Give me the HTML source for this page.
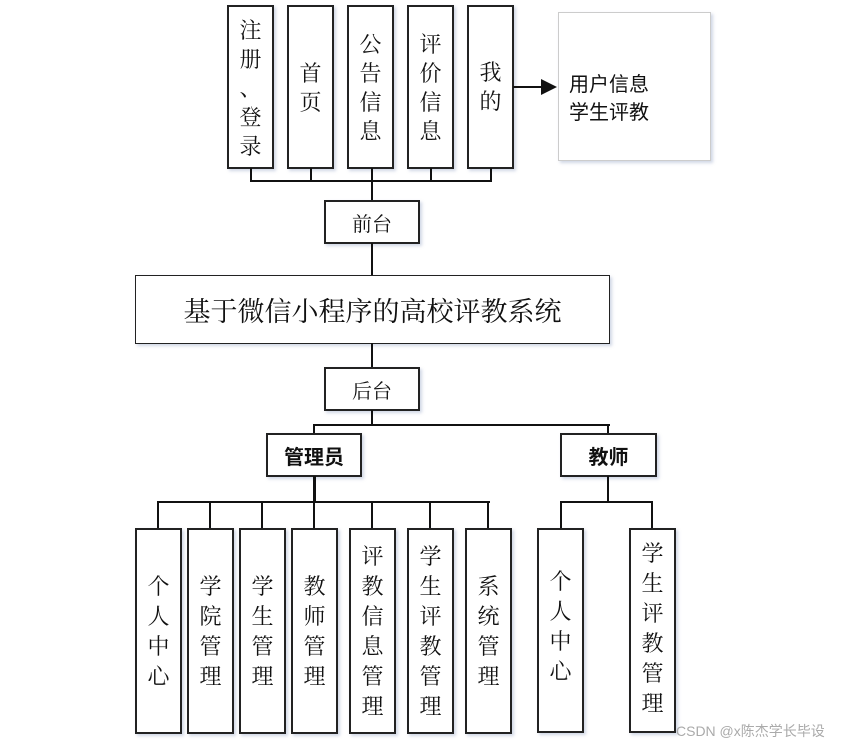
<!DOCTYPE html>
<html><head><meta charset="utf-8"><style>
body{margin:0;width:851px;height:745px;background:#fff;position:relative;overflow:hidden;font-family:"Liberation Sans","Noto Sans CJK SC",sans-serif;color:#111}
.b{position:absolute;box-sizing:border-box;border:2px solid #222;background:#fff;box-shadow:2px 2px 3px rgba(120,140,180,.35);display:flex;flex-direction:column;align-items:center;justify-content:center;font-family:"Noto Serif CJK SC","Noto Sans CJK SC",serif}
.t{font-size:22px;line-height:29px}
.a{font-size:22px;line-height:30px}
.h{position:absolute;background:#111;height:2px}
.v{position:absolute;background:#111;width:2px}
</style></head><body>
<!-- top boxes -->
<div class="b t" style="left:227px;top:5px;width:47px;height:164px"><span>注</span><span>册</span><span>、</span><span>登</span><span>录</span></div>
<div class="b t" style="left:287px;top:5px;width:47px;height:164px"><span>首</span><span>页</span></div>
<div class="b t" style="left:347px;top:5px;width:47px;height:164px"><span>公</span><span>告</span><span>信</span><span>息</span></div>
<div class="b t" style="left:407px;top:5px;width:47px;height:164px"><span>评</span><span>价</span><span>信</span><span>息</span></div>
<div class="b t" style="left:467px;top:5px;width:47px;height:164px;justify-content:center;padding-bottom:2px"><span>我</span><span>的</span></div>
<div class="b" style="left:558px;top:12px;width:153px;height:149px;border:1px solid #ccc;align-items:flex-start;padding-left:10px;font-family:'Liberation Sans','Noto Sans CJK SC',sans-serif;font-size:20px;line-height:28px;justify-content:flex-start;padding-top:58px"><span>用户信息</span><span>学生评教</span></div>
<div class="h" style="left:513px;top:86px;width:30px"></div>
<div style="position:absolute;left:541px;top:79px;width:0;height:0;border-left:16px solid #111;border-top:8px solid transparent;border-bottom:8px solid transparent"></div>
<!-- top bus -->
<div class="v" style="left:250px;top:168px;height:14px"></div>
<div class="v" style="left:310px;top:168px;height:14px"></div>
<div class="v" style="left:371px;top:168px;height:33px"></div>
<div class="v" style="left:430px;top:168px;height:14px"></div>
<div class="v" style="left:490px;top:168px;height:14px"></div>
<div class="h" style="left:250px;top:180px;width:242px"></div>
<div class="b" style="left:324px;top:200px;width:96px;height:44px;font-size:20px">前台</div>
<div class="v" style="left:371px;top:243px;height:33px"></div>
<div class="b" style="left:135px;top:275px;width:475px;height:69px;border-width:1px;font-size:27px">基于微信小程序的高校评教系统</div>
<div class="v" style="left:371px;top:343px;height:25px"></div>
<div class="b" style="left:324px;top:367px;width:96px;height:44px;font-size:20px">后台</div>
<div class="v" style="left:371px;top:410px;height:16px"></div>
<div class="h" style="left:313px;top:424px;width:297px"></div>
<div class="v" style="left:313px;top:424px;height:10px"></div>
<div class="v" style="left:607px;top:424px;height:10px"></div>
<div class="b" style="left:266px;top:433px;width:96px;height:44px;font-family:'Liberation Sans','Noto Sans CJK SC',sans-serif;font-weight:bold;font-size:20px">管理员</div>
<div class="b" style="left:560px;top:433px;width:97px;height:44px;font-family:'Liberation Sans','Noto Sans CJK SC',sans-serif;font-weight:bold;font-size:20px">教师</div>
<div class="v" style="left:313px;top:476px;height:27px;width:3px"></div>
<div class="h" style="left:157px;top:501px;width:333px"></div>
<div class="v" style="left:157px;top:501px;height:28px"></div>
<div class="v" style="left:209px;top:501px;height:28px"></div>
<div class="v" style="left:261px;top:501px;height:28px"></div>
<div class="v" style="left:371px;top:501px;height:28px"></div>
<div class="v" style="left:429px;top:501px;height:28px"></div>
<div class="v" style="left:487px;top:501px;height:28px"></div>
<div class="v" style="left:313px;top:501px;height:28px"></div>
<div class="v" style="left:607px;top:476px;height:27px"></div>
<div class="h" style="left:560px;top:501px;width:93px"></div>
<div class="v" style="left:560px;top:501px;height:28px"></div>
<div class="v" style="left:651px;top:501px;height:28px"></div>
<!-- bottom boxes -->
<div class="b a" style="left:135px;top:528px;width:47px;height:206px"><span>个</span><span>人</span><span>中</span><span>心</span></div>
<div class="b a" style="left:187px;top:528px;width:47px;height:206px"><span>学</span><span>院</span><span>管</span><span>理</span></div>
<div class="b a" style="left:239px;top:528px;width:47px;height:206px"><span>学</span><span>生</span><span>管</span><span>理</span></div>
<div class="b a" style="left:291px;top:528px;width:47px;height:206px"><span>教</span><span>师</span><span>管</span><span>理</span></div>
<div class="b a" style="left:349px;top:528px;width:47px;height:206px"><span>评</span><span>教</span><span>信</span><span>息</span><span>管</span><span>理</span></div>
<div class="b a" style="left:407px;top:528px;width:47px;height:206px"><span>学</span><span>生</span><span>评</span><span>教</span><span>管</span><span>理</span></div>
<div class="b a" style="left:465px;top:528px;width:47px;height:206px"><span>系</span><span>统</span><span>管</span><span>理</span></div>
<div class="b a" style="left:537px;top:528px;width:47px;height:205px;padding-bottom:10px"><span>个</span><span>人</span><span>中</span><span>心</span></div>
<div class="b a" style="left:629px;top:528px;width:47px;height:205px;padding-bottom:6px"><span>学</span><span>生</span><span>评</span><span>教</span><span>管</span><span>理</span></div>
<div style="position:absolute;left:676px;top:721px;font-size:14px;color:#aaa">CSDN @x陈杰学长毕设</div>
</body></html>
